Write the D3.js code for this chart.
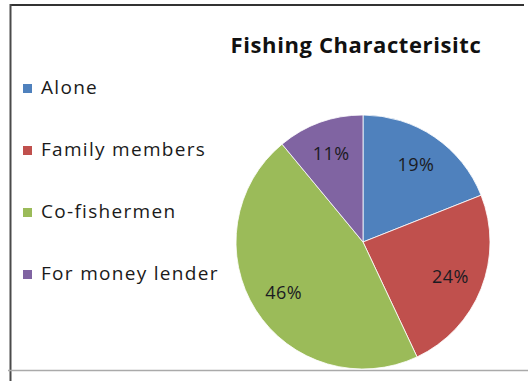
<!DOCTYPE html>
<html>
<head>
<meta charset="utf-8">
<script src="https://cdn.jsdelivr.net/npm/d3@7"></script>
<style>
  html, body { margin: 0; padding: 0; background: #fff; }
  svg { display: block; }
  text { font-family: "Open Sans", "DejaVu Sans", sans-serif; }
</style>
</head>
<body>
<svg id="chart" width="528" height="381"></svg>
<script>
// Who the fishermen fish with (share of respondents, %)
const categories = ["Alone", "Family members", "Co-fishermen", "For money lender"];
const shares = [19, 24, 46, 11];
const sliceColors = ["#4F81BD", "#C0504D", "#9BBB59", "#8064A2"];
const chartTitle = "Fishing Characterisitc";

const svg = d3.select("#chart");
const W = 528, H = 381;

// chart frame
svg.append("line").attr("x1", 10).attr("x2", 524).attr("y1", 5).attr("y2", 5)
  .attr("stroke", "#333").attr("stroke-width", 2);
svg.append("line").attr("x1", 10.5).attr("x2", 10.5).attr("y1", 4).attr("y2", H)
  .attr("stroke", "#4a4a4a").attr("stroke-width", 2);
svg.append("line").attr("x1", 8).attr("x2", W).attr("y1", 370.5).attr("y2", 370.5)
  .attr("stroke", "#aaa").attr("stroke-width", 1.5);

// title
svg.append("text")
  .attr("x", 356).attr("y", 53)
  .attr("text-anchor", "middle")
  .attr("font-size", 22).attr("font-weight", "bold")
  .attr("letter-spacing", 0.6)
  .attr("fill", "#111")
  .text(chartTitle);

// pie
const cx = 363, cy = 242, R = 127;
const color = d3.scaleOrdinal().domain(categories).range(sliceColors);
const pie = d3.pie().sort(null).value(d => d.value);
const data = categories.map((c, i) => ({ name: c, value: shares[i] }));
const arcs = pie(data);
const arc = d3.arc().innerRadius(0).outerRadius(R);
const labelArc = d3.arc().innerRadius(94).outerRadius(94);

const g = svg.append("g").attr("transform", `translate(${cx},${cy})`);
g.selectAll("path.slice").data(arcs).enter().append("path")
  .attr("class", "slice")
  .attr("d", arc)
  .attr("fill", d => color(d.data.name))
  .attr("stroke", "#fff").attr("stroke-width", 0.8);

g.selectAll("text.pct").data(arcs).enter().append("text")
  .attr("class", "pct")
  .attr("transform", d => `translate(${labelArc.centroid(d)})`)
  .attr("text-anchor", "middle")
  .attr("dy", "0.35em")
  .attr("font-size", 18)
  .attr("letter-spacing", 0.4)
  .attr("fill", "#1b1b22")
  .text(d => d.data.value + "%");

// legend
const legend = svg.append("g");
const rows = legend.selectAll("g").data(categories).enter().append("g")
  .attr("transform", (d, i) => `translate(23, ${94 + i * 62})`);
rows.append("rect")
  .attr("x", 0).attr("y", -10).attr("width", 9).attr("height", 9)
  .attr("fill", d => color(d));
rows.append("text")
  .attr("x", 18).attr("y", 0)
  .attr("font-size", 19)
  .attr("letter-spacing", 1.3)
  .attr("fill", "#1a1a1a")
  .text(d => d);
</script>
</body>
</html>
